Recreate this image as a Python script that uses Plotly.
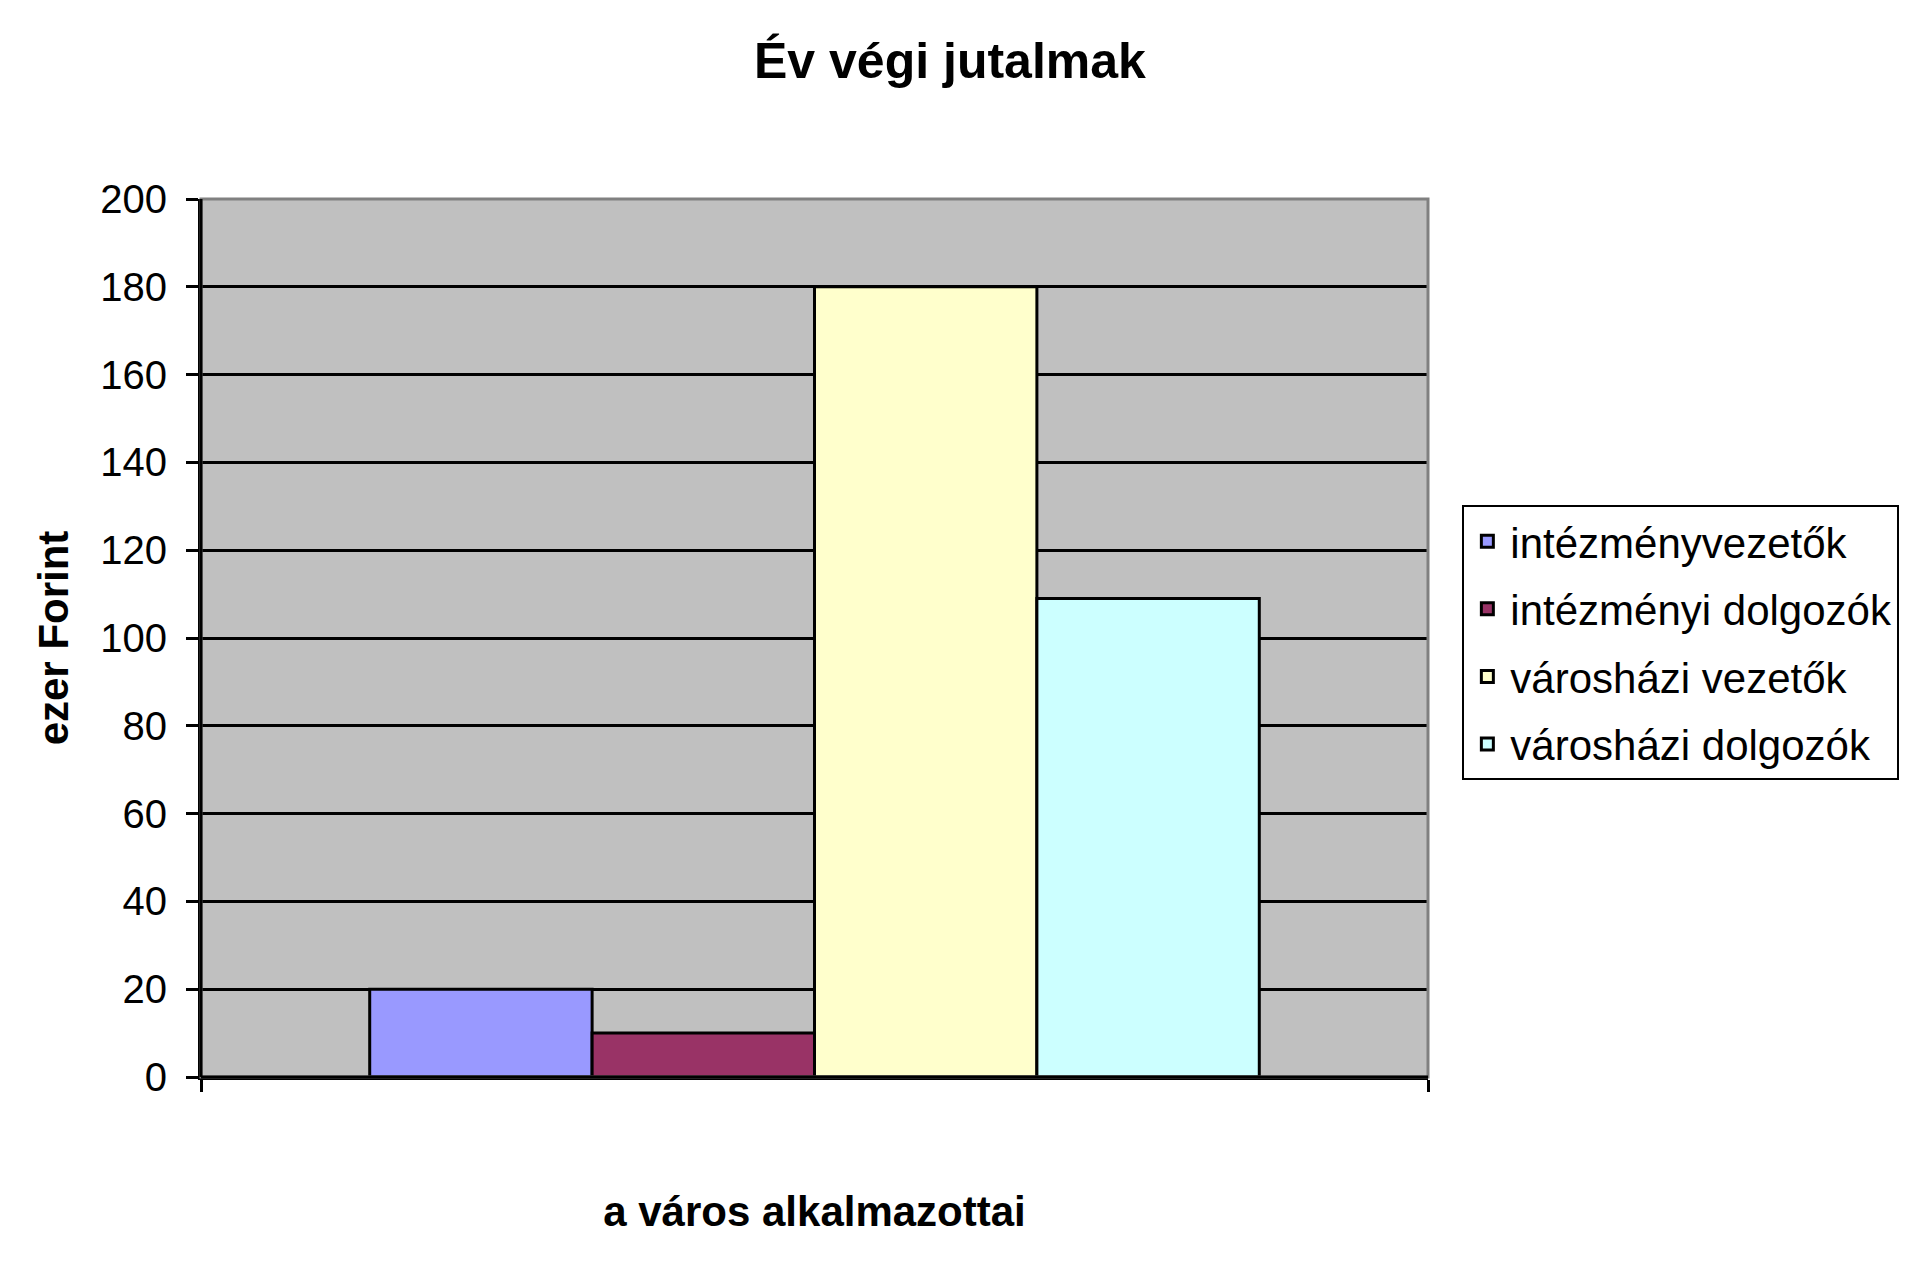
import plotly.graph_objects as go

category = ["a város alkalmazottai"]
series_names = ["intézményvezetők", "intézményi dolgozók", "városházi vezetők", "városházi dolgozók"]
series_values = [20, 10, 180, 109]
series_colors = ["#9999FF", "#993366", "#FFFFCC", "#CCFFFF"]
y_ticks = [0, 20, 40, 60, 80, 100, 120, 140, 160, 180, 200]

FONT = "Liberation Sans, Arial, sans-serif"

fig = go.Figure()
for i, (name, val, col) in enumerate(zip(series_names, series_values, series_colors)):
    fig.add_trace(go.Bar(
        x=category, y=[val], name=name,
        marker=dict(color=col, line=dict(color="black", width=3)),
        legendgroup=f"g{i}",
    ))

fig.update_layout(
    width=1920, height=1274,
    barmode="group", bargap=0.275, bargroupgap=0,
    paper_bgcolor="white", plot_bgcolor="#C0C0C0",
    margin=dict(l=193, r=500, t=191, b=205),
    font=dict(family=FONT, color="black", size=40),
    title=dict(text="<b>Év végi jutalmak</b>", x=0.4906, xanchor="center",
               y=1 - 52.5 / 1274, yanchor="middle", yref="container",
               font=dict(family=FONT, size=50, color="black")),
    legend=dict(x=1.028, y=0.651, xanchor="left", yanchor="top",
                bordercolor="black", borderwidth=2, bgcolor="white",
                font=dict(family=FONT, size=42, color="black"),
                traceorder="grouped", tracegroupgap=10, itemwidth=36),
    showlegend=True,
)

fig.update_xaxes(
    showticklabels=False, ticks="outside", tickson="boundaries", ticklen=12,
    tickwidth=3, tickcolor="black", showline=True, linecolor="black", linewidth=3,
    showgrid=False,
    title=dict(text="<b>a város alkalmazottai</b>", standoff=118,
               font=dict(family=FONT, size=42, color="black")),
)
fig.update_yaxes(
    range=[0, 200], tickvals=y_ticks, ticks="outside", ticklen=12, tickwidth=3,
    tickcolor="black", showline=True, linecolor="black", linewidth=3,
    showgrid=True, gridcolor="black", gridwidth=3, zeroline=False,
    ticklabelstandoff=11,
    tickfont=dict(family=FONT, size=40, color="black"),
    title=dict(text="<b>ezer Forint</b>", standoff=19,
               font=dict(family=FONT, size=42, color="black")),
)

fig.add_shape(type="rect", xref="paper", yref="paper", x0=0, x1=1, y0=0, y1=1,
              line=dict(color="#808080", width=3), layer="above")
fig.add_shape(type="line", xref="paper", yref="paper", x0=0, x1=0, y0=0, y1=1,
              line=dict(color="black", width=3), layer="above")
fig.add_shape(type="line", xref="paper", yref="paper", x0=0, x1=1, y0=0, y1=0,
              line=dict(color="black", width=3), layer="above")

fig.write_html("out.html")
